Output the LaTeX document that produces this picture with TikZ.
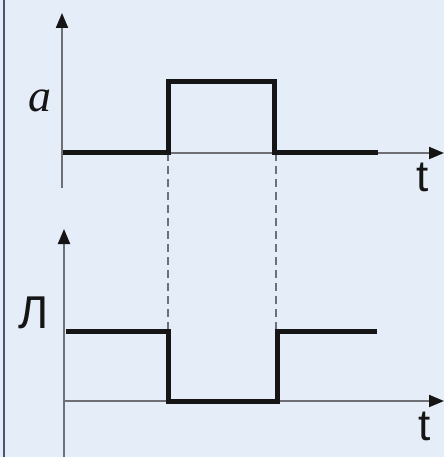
\documentclass[tikz,border=0pt]{standalone}
\usepackage{fontspec}
\setmainfont{Liberation Serif}
\newfontfamily\labsans{Liberation Sans}
\usetikzlibrary{arrows.meta}
\definecolor{bgc}{HTML}{E5EDF8}
\definecolor{axc}{HTML}{6E7075}
\definecolor{sigc}{HTML}{151515}
\definecolor{frc}{HTML}{4A5570}
\tikzset{
  axis/.style={draw=axc, line width=2pt, -{Triangle[length=15pt,width=12pt,color=sigc]}},
  signal/.style={draw=sigc, line width=5pt, line join=miter},
  guide/.style={draw=axc, line width=1.5pt, dash pattern=on 8pt off 5pt},
  lab/.style={inner sep=0pt, text=sigc}
}
\begin{document}
\begin{tikzpicture}[x=1pt,y=-1pt]
\fill[bgc] (0,0) rectangle (444,457);
\useasboundingbox (0,0) rectangle (444,457);
\draw[draw=frc, line width=2pt] (4,0) -- (4,457);
% coordinates
\coordinate (tyb) at (62,188);
\coordinate (tyt) at (62,13);
\coordinate (txo) at (62,153);
\coordinate (txe) at (444,153);
\coordinate (byb) at (64,457);
\coordinate (byt) at (64,229);
\coordinate (bxo) at (64,401);
\coordinate (bxe) at (444,401);
% top axes
\draw[axis] (tyb) -- (tyt);
\draw[axis] (txo) -- (txe);
% bottom axes
\draw[axis] (byb) -- (byt);
\draw[axis] (bxo) -- (bxe);
% dashed guides
\coordinate (g1t) at (168,153);
\coordinate (g1b) at (168,332);
\coordinate (g2t) at (276,153);
\coordinate (g2b) at (276,332);
\draw[guide] (g1t) -- (g1b);
\draw[guide] (g2t) -- (g2b);
% top signal
\draw[signal] (63,153) -- (168,153) -- (168,82) -- (274,82) -- (274,153) -- (378,153);
% bottom signal
\draw[signal] (66,331) -- (168,331) -- (168,401) -- (277,401) -- (277,331) -- (377,331);
% labels
\node[lab, font=\fontsize{46}{46}\selectfont\itshape] (la) at (40,101) {a};
\node[lab, font=\labsans\fontsize{44}{44}\selectfont] (lt1) at (423,177) {t};
\node[lab, font=\labsans\fontsize{46}{46}\selectfont] (ll) at (34,313) {Л};
\node[lab, font=\labsans\fontsize{44}{44}\selectfont] (lt2) at (425,426) {t};
\end{tikzpicture}
\end{document}
